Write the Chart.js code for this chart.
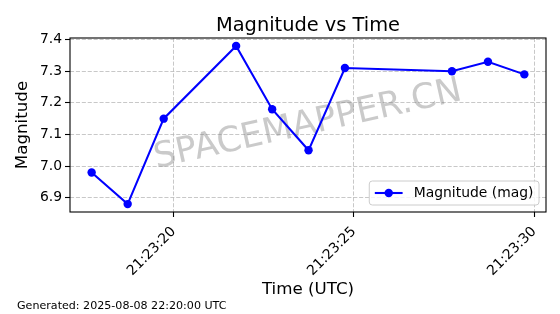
<!DOCTYPE html>
<html>
<head>
<meta charset="utf-8">
<script src="https://cdn.jsdelivr.net/npm/chart.js@4.4.0/dist/chart.umd.min.js"></script>
<style>
  html, body { margin: 0; padding: 0; background: #fff; }
  #wrap { width: 560px; height: 314px; }
</style>
</head>
<body>
<div id="wrap"><canvas id="grafico" width="560" height="314"></canvas></div>
<script>
// ------------------------------
// Data
// ------------------------------
const times = ["21:23:17.72", "21:23:18.72", "21:23:19.72", "21:23:21.73", "21:23:22.73",
               "21:23:23.74", "21:23:24.75", "21:23:27.72", "21:23:28.72", "21:23:29.73"];
const magnitudes = [6.98, 6.88, 7.15, 7.38, 7.18, 7.05, 7.31, 7.30, 7.33, 7.29];
const xTickLabels = ["21:23:20", "21:23:25", "21:23:30"];
const yTickValues = [6.9, 7.0, 7.1, 7.2, 7.3, 7.4];

const seriesLabel = "Magnitude (mag)";
const chartTitle = "Magnitude vs Time";
const footerText = "Generated: 2025-08-08 22:20:00 UTC";
const watermark = "SPACEMAPPER.CN";

const FONT = "'DejaVu Sans', sans-serif";

function toSec(t) {
  const p = t.split(":");
  return parseInt(p[0]) * 3600 + parseInt(p[1]) * 60 + parseFloat(p[2]);
}
function fmtTime(v) {
  const s = Math.round(v);
  const hh = String(Math.floor(s / 3600)).padStart(2, "0");
  const mm = String(Math.floor((s % 3600) / 60)).padStart(2, "0");
  const ss = String(s % 60).padStart(2, "0");
  return hh + ":" + mm + ":" + ss;
}

const puntos = times.map((t, i) => ({ x: toSec(t), y: magnitudes[i] }));

// matplotlib-like 5% margins
const xs = puntos.map(p => p.x);
const xMin = Math.min(...xs), xMax = Math.max(...xs);
const yMin = Math.min(...magnitudes), yMax = Math.max(...magnitudes);
const xPad = (xMax - xMin) * 0.05, yPad = (yMax - yMin) * 0.05;

// ------------------------------
// Title, watermark, frame, legend, footer
// ------------------------------
const decor = {
  id: "decor",
  beforeDatasetsDraw(chart) {
    const { ctx, chartArea: a } = chart;
    ctx.save();
    ctx.translate((a.left + a.right) / 2, (a.top + a.bottom) / 2);
    ctx.rotate(-12.5 * Math.PI / 180);
    ctx.font = "35px " + FONT;
    ctx.fillStyle = "rgba(128,128,128,0.42)";
    ctx.textAlign = "center";
    ctx.textBaseline = "middle";
    ctx.fillText(watermark, 0, 0);
    ctx.restore();
  },
  afterDatasetsDraw(chart) {
    const { ctx, chartArea: a } = chart;
    ctx.save();
    // frame
    ctx.strokeStyle = "#000";
    ctx.lineWidth = 1.1;
    ctx.strokeRect(a.left, a.top, a.right - a.left, a.bottom - a.top);

    // title
    ctx.fillStyle = "#000";
    ctx.font = "19.4px " + FONT;
    ctx.textAlign = "center";
    ctx.textBaseline = "alphabetic";
    ctx.fillText(chartTitle, (a.left + a.right) / 2, 31);

    // footer
    ctx.font = "11.1px " + FONT;
    ctx.textAlign = "left";
    ctx.fillText(footerText, 17, 309);

    // legend (lower right, inside)
    const fs = 13.9;
    ctx.font = fs + "px " + FONT;
    const tw = ctx.measureText(seriesLabel).width;
    const w = fs * 3.6 + tw;
    const h = 24;
    const lx = a.right - 7 - w;
    const ly = a.bottom - 7 - h;
    ctx.beginPath();
    ctx.roundRect(lx, ly, w, h, 3);
    ctx.fillStyle = "rgba(255,255,255,0.8)";
    ctx.fill();
    ctx.strokeStyle = "#cccccc";
    ctx.lineWidth = 1;
    ctx.stroke();
    const cy = ly + h / 2;
    const hx = lx + fs * 0.4;
    ctx.beginPath();
    ctx.moveTo(hx, cy);
    ctx.lineTo(hx + fs * 2, cy);
    ctx.strokeStyle = "#0000ff";
    ctx.lineWidth = 2.08;
    ctx.stroke();
    ctx.beginPath();
    ctx.arc(hx + fs, cy, 4.2, 0, Math.PI * 2);
    ctx.fillStyle = "#0000ff";
    ctx.fill();
    ctx.fillStyle = "#000";
    ctx.textBaseline = "middle";
    ctx.fillText(seriesLabel, hx + fs * 2.8, cy);
    ctx.restore();
  }
};

const gridOpts = {
  color: "rgba(176,176,176,0.7)",
  lineWidth: 1,
  tickLength: 5,
  tickColor: "#000",
  tickWidth: 1.1
};

new Chart(document.getElementById("grafico"), {
  type: "line",
  data: {
    datasets: [{
      label: seriesLabel,
      data: puntos,
      borderColor: "#0000ff",
      backgroundColor: "#0000ff",
      borderWidth: 2.08,
      pointRadius: 4.2,
      pointHoverRadius: 4.2,
      pointBorderWidth: 0,
      tension: 0,
      fill: false
    }]
  },
  options: {
    responsive: false,
    animation: false,
    events: [],
    layout: { padding: { top: 38, right: 14, bottom: 14, left: 0 } },
    plugins: {
      legend: { display: false },
      title: { display: false },
      tooltip: { enabled: false }
    },
    scales: {
      x: {
        type: "linear",
        min: xMin - xPad,
        max: xMax + xPad,
        afterBuildTicks: s => { s.ticks = xTickLabels.map(t => ({ value: toSec(t) })); },
        afterFit: s => { s.height = 88; },
        grid: gridOpts,
        border: { display: false, dash: [4.1, 1.8] },
        ticks: {
          callback: v => fmtTime(v),
          maxRotation: 45,
          minRotation: 45,
          padding: 6.5,
          color: "#000",
          font: { family: FONT, size: 13.9 }
        },
        title: {
          display: true,
          text: "Time (UTC)",
          color: "#000",
          padding: { top: 0, bottom: 0 },
          font: { family: FONT, size: 16.7 }
        }
      },
      y: {
        type: "linear",
        min: yMin - yPad,
        max: yMax + yPad,
        afterBuildTicks: s => { s.ticks = yTickValues.map(v => ({ value: v })); },
        afterFit: s => { s.width = 70; },
        grid: gridOpts,
        border: { display: false, dash: [4.1, 1.8] },
        ticks: {
          callback: v => v.toFixed(1),
          padding: 3,
          color: "#000",
          font: { family: FONT, size: 13.9 }
        },
        title: {
          display: true,
          text: "Magnitude",
          color: "#000",
          padding: { top: 13, bottom: 0 },
          font: { family: FONT, size: 16.7 }
        }
      }
    }
  },
  plugins: [decor]
});
</script>
</body>
</html>
